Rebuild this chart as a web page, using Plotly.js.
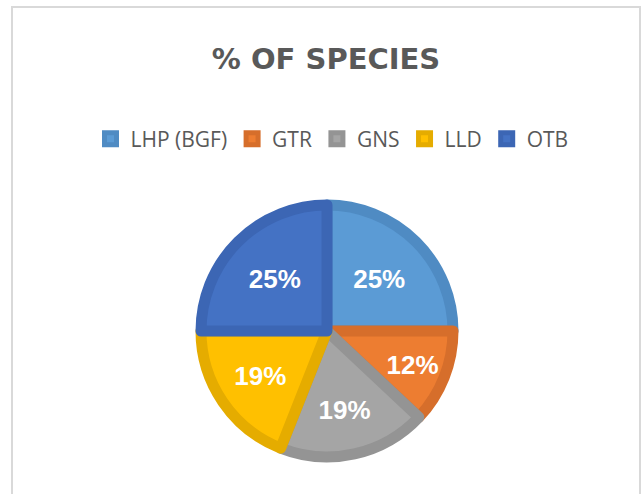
<!DOCTYPE html>
<html>
<head>
<meta charset="utf-8">
<script src="https://cdn.plot.ly/plotly-3.0.1.min.js"></script>
<style>
html,body{margin:0;padding:0;background:#fff;}
#chart{width:642px;height:494px;}
</style>
</head>
<body>
<div id="chart"></div>
<script>
const categories = ["LHP (BGF)", "GTR", "GNS", "LLD", "OTB"];
const shares = [25, 12, 19, 19, 25];
const fillColors = ["#5B9BD5", "#ED7D31", "#A5A5A5", "#FFC000", "#4472C4"];
const edgeColors = ["#4F8BC3", "#D66E2B", "#949494", "#E5AC00", "#3C66B4"];
const chartTitle = "% OF SPECIES";

const W = 642, H = 494;
const cx = 327, cy = 331, r = 126;

const trace = {
  type: "pie",
  labels: categories,
  values: shares,
  sort: false,
  direction: "clockwise",
  rotation: 0,
  marker: { colors: fillColors, line: { color: edgeColors, width: 11 } },
  texttemplate: "%{percent:.0%}",
  textposition: "inside",
  insidetextorientation: "horizontal",
  textfont: { family: "Liberation Sans, Arial, sans-serif", size: 26, color: "#ffffff", weight: "bold" },
  hoverinfo: "none",
  domain: { x: [(cx - r) / W, (cx + r) / W], y: [(H - cy - r) / H, (H - cy + r) / H] }
};

const layout = {
  width: W, height: H,
  margin: { l: 0, r: 0, t: 0, b: 0 },
  paper_bgcolor: "#ffffff",
  title: {
    text: "<b>" + chartTitle + "</b>",
    font: { family: "DejaVu Sans, sans-serif", size: 29, color: "#595959" },
    x: 326 / W, xref: "paper", xanchor: "center",
    y: 1 - 58.5 / H, yref: "container", yanchor: "middle"
  },
  showlegend: true,
  legend: {
    orientation: "h",
    x: 332 / W, xanchor: "center",
    y: 1 - 139 / H, yanchor: "middle",
    font: { family: "Open Sans, sans-serif", size: 21, color: "#595959" },
    traceorder: "normal"
  },
  shapes: [{
    type: "rect", xref: "paper", yref: "paper",
    x0: 12 / W, x1: 640 / W, y0: -0.01, y1: 1 - 7 / H,
    line: { color: "#d9d9d9", width: 2 }, fillcolor: "rgba(0,0,0,0)"
  }]
};

Plotly.newPlot("chart", [trace], layout, { displayModeBar: false, staticPlot: true });
</script>
</body>
</html>
